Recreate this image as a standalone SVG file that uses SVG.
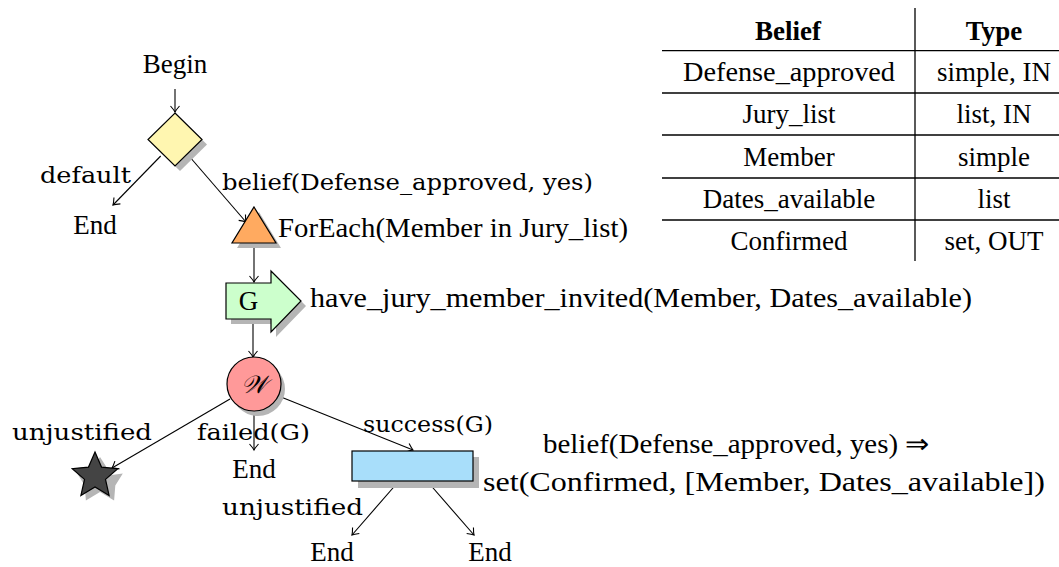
<svg xmlns="http://www.w3.org/2000/svg" width="1059" height="567" viewBox="0 0 1059 567">
<style>
.t{font-family:"Liberation Serif","Times New Roman",serif;font-size:27px;fill:#000}
.m{font-family:"DejaVu Serif","Liberation Serif",serif;font-size:23px;fill:#000}
.b{font-weight:bold}
.c{text-anchor:middle}
.e{stroke:#000;stroke-width:1.1;fill:none}
.sh{fill:#b5b5b5;stroke:none}
.o{stroke:#000;stroke-width:1.2}
.tl{stroke:#000;stroke-width:1.3}
</style>
<defs>
<marker id="ar" markerUnits="userSpaceOnUse" markerWidth="12" markerHeight="12" viewBox="-8 -6 10 12" refX="0" refY="0" orient="auto">
<path d="M-6,-4.5 Q-2,-1 0,0 Q-2,1 -6,4.5" fill="none" stroke="#000" stroke-width="1.1"/>
</marker>
</defs>

<g id="table">
<line class="tl" x1="915" y1="8" x2="915" y2="261"/>
<line class="tl" x1="662" y1="50.7" x2="1059" y2="50.7"/>
<line class="tl" x1="662" y1="93" x2="1059" y2="93"/>
<line class="tl" x1="662" y1="135" x2="1059" y2="135"/>
<line class="tl" x1="662" y1="178" x2="1059" y2="178"/>
<line class="tl" x1="662" y1="220" x2="1059" y2="220"/>
<text class="t b c" x="788" y="40">Belief</text>
<text class="t b c" x="994" y="40">Type</text>
<text class="t c" x="789" y="81" textLength="212" lengthAdjust="spacingAndGlyphs">Defense_approved</text>
<text class="t c" x="994" y="81">simple, IN</text>
<text class="t c" x="789" y="123">Jury_list</text>
<text class="t c" x="994" y="123">list, IN</text>
<text class="t c" x="789" y="166">Member</text>
<text class="t c" x="994" y="166">simple</text>
<text class="t c" x="789" y="208">Dates_available</text>
<text class="t c" x="994" y="208">list</text>
<text class="t c" x="789" y="250">Confirmed</text>
<text class="t c" x="994" y="250">set, OUT</text>
</g>

<g id="connectors">
<line class="e" x1="175" y1="89" x2="175" y2="112" marker-end="url(#ar)"/>
<line class="e" x1="160.7" y1="156" x2="113" y2="205" marker-end="url(#ar)"/>
<line class="e" x1="189" y1="156" x2="246" y2="222" marker-end="url(#ar)"/>
<line class="e" x1="254" y1="243" x2="254" y2="282" marker-end="url(#ar)"/>
<line class="e" x1="253" y1="319" x2="253" y2="357" marker-end="url(#ar)"/>
<line class="e" x1="230" y1="399" x2="112" y2="468" marker-end="url(#ar)"/>
<line class="e" x1="254" y1="412" x2="254" y2="450" marker-end="url(#ar)"/>
<line class="e" x1="281" y1="397" x2="413" y2="450" marker-end="url(#ar)"/>
<line class="e" x1="399" y1="481" x2="352" y2="535" marker-end="url(#ar)"/>
<line class="e" x1="427" y1="481" x2="474" y2="535" marker-end="url(#ar)"/>
</g>

<g id="begin"><text class="t c" x="175" y="73">Begin</text></g>

<g id="decision">
<polygon class="sh" points="180,118 207,144.5 180,171 153,144.5"/>
<polygon class="o" fill="#fff6b0" points="175,113 202,139.5 175,166 148,139.5"/>
</g>

<g id="end1"><text class="t c" x="95" y="234">End</text></g>
<g id="label-default"><text class="m c" x="85.5" y="183" textLength="91" lengthAdjust="spacingAndGlyphs">default</text></g>
<g id="label-belief"><text class="m" x="222" y="190" textLength="371" lengthAdjust="spacingAndGlyphs">belief(Defense_approved, yes)</text></g>

<g id="foreach">
<polygon class="sh" points="259,212 281,248 237,248"/>
<polygon class="o" fill="#ffaa60" points="254,207 276,243 232,243"/>
<text class="t" x="278" y="237" textLength="350" lengthAdjust="spacingAndGlyphs">ForEach(Member in Jury_list)</text>
</g>

<g id="goal">
<polygon class="sh" points="231,288 276,288 276,276 306,306 276,337 276,324 231,324"/>
<polygon class="o" fill="#ccffcc" points="226,283 271,283 271,271 301,301 271,332 271,319 226,319"/>
<text class="t c" x="248.5" y="310">G</text>
<text class="t" x="310" y="307" textLength="662" lengthAdjust="spacingAndGlyphs">have_jury_member_invited(Member, Dates_available)</text>
</g>

<g id="wait">
<circle class="sh" cx="258" cy="389" r="27"/>
<circle class="o" fill="#ff9999" cx="254" cy="384" r="27"/>
<text x="254" y="393" text-anchor="middle" font-family="Liberation Serif, serif" font-style="italic" font-size="25">𝒲</text>
</g>

<g id="label-unjustified1"><text class="m" x="12" y="440" textLength="140" lengthAdjust="spacingAndGlyphs">unjustified</text></g>

<g id="star">
<polygon class="sh" points="100,457 111.5,475.1 122.8,473.6 115.3,485.6 114.1,500.4 100,492 85.9,500.4 84.7,485.6 77.2,473.6 88.5,475.1"/>
<polygon class="o" fill="#444" points="95,452 101.5,467.1 117.8,468.6 105.5,479.4 109.1,495.4 95,487 80.9,495.4 84.5,479.4 72.2,468.6 88.5,467.1"/>
</g>

<g id="label-failed"><text class="m" x="197" y="440" textLength="113" lengthAdjust="spacingAndGlyphs">failed(G)</text></g>
<g id="end2"><text class="t c" x="254" y="478">End</text></g>
<g id="label-success"><text class="m" x="363" y="432" textLength="130" lengthAdjust="spacingAndGlyphs">success(G)</text></g>

<g id="action">
<rect class="sh" x="358" y="457" width="121" height="31"/>
<rect class="o" fill="#a8defa" x="352" y="451" width="121" height="30"/>
<text class="t" x="543" y="453" textLength="387" lengthAdjust="spacingAndGlyphs">belief(Defense_approved, yes) ⇒</text>
<text class="t" x="483" y="491" textLength="562" lengthAdjust="spacingAndGlyphs">set(Confirmed, [Member, Dates_available])</text>
</g>

<g id="label-unjustified2"><text class="m" x="222" y="515" textLength="141" lengthAdjust="spacingAndGlyphs">unjustified</text></g>
<g id="end3"><text class="t c" x="332" y="561">End</text></g>
<g id="end4"><text class="t c" x="490" y="561">End</text></g>
</svg>
